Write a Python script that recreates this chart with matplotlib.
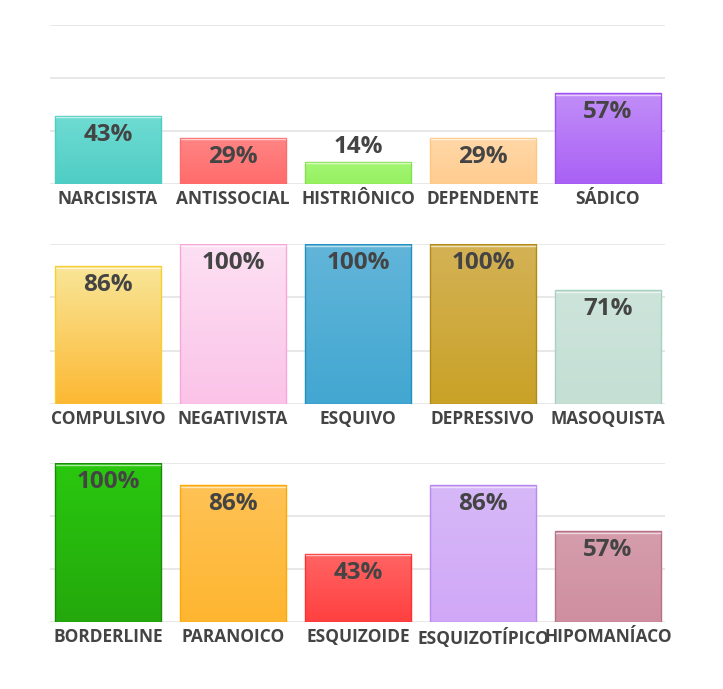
import numpy as np
import matplotlib
matplotlib.use("Agg")
import matplotlib.pyplot as plt
from matplotlib.colors import LinearSegmentedColormap

# Data for the three rows of bars
row1_labels = ["NARCISISTA", "ANTISSOCIAL", "HISTRIÔNICO", "DEPENDENTE", "SÁDICO"]
row1_values = [43, 29, 14, 29, 57]
row2_labels = ["COMPULSIVO", "NEGATIVISTA", "ESQUIVO", "DEPRESSIVO", "MASOQUISTA"]
row2_values = [86, 100, 100, 100, 71]
row3_labels = ["BORDERLINE", "PARANOICO", "ESQUIZOIDE", "ESQUIZOTÍPICO", "HIPOMANÍACO"]
row3_values = [100, 86, 43, 86, 57]

# (top colour, bottom colour, edge colour) for each bar
row1_colors = [("#70dcd3", "#4ecdc4", "#4ecdc4"),
               ("#ff8585", "#ff6b6b", "#ff6b6b"),
               ("#a4f775", "#96f060", "#86e050"),
               ("#ffd8a8", "#ffcc90", "#ffc880"),
               ("#c18ef8", "#a960f5", "#a050f0")]
row2_colors = [("#f8e698", "#fdb833", "#f5d030"),
               ("#fde0f3", "#fbc3e8", "#f8a8d8"),
               ("#62b5d9", "#42a7d1", "#2090c0"),
               ("#d4b255", "#c9a227", "#b08a18"),
               ("#cde4db", "#c5dfd5", "#a8d0c0")]
row3_colors = [("#2ac80f", "#24a80c", "#1a8a0a"),
               ("#fec255", "#ffb630", "#ffa800"),
               ("#ff6464", "#ff4040", "#ff3030"),
               ("#d6b8f7", "#d1a8f8", "#b888f0"),
               ("#d59dac", "#cf8fa0", "#b87088")]

rows = [(row1_labels, row1_values, row1_colors),
        (row2_labels, row2_values, row2_colors),
        (row3_labels, row3_values, row3_colors)]

# axes boxes in pixels: (top, bottom)
row_pix = [(25, 184), (244, 404), (463, 622)]
W, H = 723, 689
left, right = 50, 665

fig = plt.figure(figsize=(W / 100, H / 100), dpi=100)
font = "Open Sans"
text_color = "#444444"
bar_w = 0.85

for (labels, values, colors), (top, bottom) in zip(rows, row_pix):
    ax = fig.add_axes([left / W, 1 - bottom / H, (right - left) / W, (bottom - top) / H])
    ax.set_xlim(-0.464, 4.456)
    ax.set_ylim(0, 100)
    ax.set_yticks([0, 100 / 3, 200 / 3, 100])
    ax.yaxis.grid(True, color="#e6e6e6", linewidth=1.3)
    ax.set_axisbelow(True)
    for s in ax.spines.values():
        s.set_visible(False)
    ax.tick_params(axis="y", left=False, labelleft=False)
    ax.tick_params(axis="x", length=0, pad=4)

    x = np.arange(len(values))
    bars = ax.bar(x, values, width=bar_w, facecolor="none",
                  edgecolor="none", zorder=3)
    for i, (b, v, (c_top, c_bot, c_edge)) in enumerate(zip(bars, values, colors)):
        cmap = LinearSegmentedColormap.from_list("g", [c_bot, c_top])
        grad = np.linspace(0, 1, 256).reshape(-1, 1)
        im = ax.imshow(grad, cmap=cmap, origin="lower", aspect="auto",
                       extent=[i - bar_w / 2, i + bar_w / 2, 0, v], zorder=2)
        im.set_clip_path(b)
        ax.bar(i, v, width=bar_w, facecolor="none", edgecolor=c_edge,
               linewidth=1.0, zorder=4)
        # thin highlight just under the top edge
        ax.plot([i - bar_w / 2 + 0.01, i + bar_w / 2 - 0.01], [v - 1.0, v - 1.0],
                color="white", alpha=0.6, linewidth=1.0, zorder=5)
        if v < 20:
            ax.annotate(f"{v}%", (i, v), xytext=(0, 15), textcoords="offset pixels",
                        ha="center", va="center", fontsize=17.5, fontweight="bold",
                        family=font, color=text_color, zorder=6)
        else:
            ax.annotate(f"{v}%", (i, v), xytext=(0, -19), textcoords="offset pixels",
                        ha="center", va="center", fontsize=17.5, fontweight="bold",
                        family=font, color=text_color, zorder=6)
    ax.set_xticks(x)
    ax.set_xticklabels(labels, fontsize=12.5, fontweight="bold", family=font,
                       color=text_color)

fig.savefig("out.png", dpi=100)
